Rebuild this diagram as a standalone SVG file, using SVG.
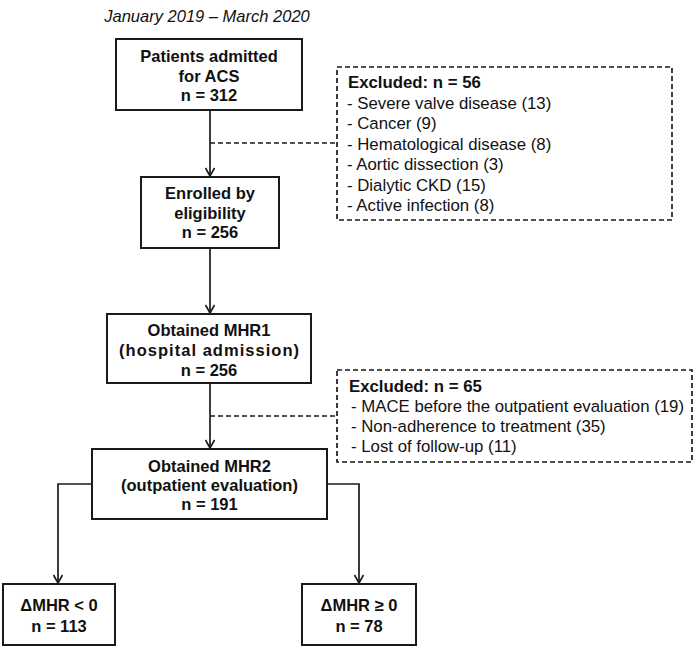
<svg xmlns="http://www.w3.org/2000/svg" width="700" height="648" viewBox="0 0 700 648">
<defs>
<marker id="arr" markerUnits="userSpaceOnUse" markerWidth="12" markerHeight="12" viewBox="-10 -6 12 12" refX="0" refY="0" orient="auto" overflow="visible">
<path d="M-8,-4.5 L0,0 L-8,4.5" fill="none" stroke="#1a1a1a" stroke-width="1.6"/>
</marker>
<style>
.box{fill:#fff;stroke:#1a1a1a;stroke-width:2}
.dbox{fill:#fff;stroke:#1a1a1a;stroke-width:1.7;stroke-dasharray:5 3}
.ln{fill:none;stroke:#1a1a1a;stroke-width:1.7}
.dl{fill:none;stroke:#1a1a1a;stroke-width:1.7;stroke-dasharray:5 3}
.t{font-family:"Liberation Sans",Arial,sans-serif;font-size:16.5px;font-weight:bold;fill:#111;text-anchor:middle}
.x{font-family:"Liberation Sans",Arial,sans-serif;font-size:16.8px;fill:#111}
.xb{font-weight:bold}
.title{font-family:"Liberation Sans",Arial,sans-serif;font-size:16.5px;font-style:italic;fill:#111;text-anchor:middle}
</style>
</defs>
<rect width="700" height="648" fill="#fff"/>
<text class="title" x="207" y="22">January 2019 – March 2020</text>
<g id="connectors">
<line class="ln" x1="210" y1="110" x2="210" y2="176" marker-end="url(#arr)"/>
<line class="dl" x1="210" y1="143" x2="337" y2="143"/>
<line class="ln" x1="210" y1="248" x2="210" y2="313" marker-end="url(#arr)"/>
<line class="ln" x1="210" y1="383" x2="210" y2="448" marker-end="url(#arr)"/>
<line class="dl" x1="210" y1="416" x2="337" y2="416"/>
<polyline class="ln" points="92,484 58,484 58,583" marker-end="url(#arr)"/>
<polyline class="ln" points="327,484 359,484 359,583" marker-end="url(#arr)"/>
</g>
<g id="admitted">
<rect class="box" x="116" y="39" width="186" height="71"/>
<text class="t" x="209" y="62">Patients admitted</text>
<text class="t" x="209" y="82">for ACS</text>
<text class="t" x="209" y="101">n = 312</text>
</g>
<g id="excluded1">
<rect class="dbox" x="337" y="67" width="335" height="153"/>
<text class="x xb" x="348" y="88">Excluded: n = 56</text>
<text class="x" x="347" y="108.5">- Severe valve disease (13)</text>
<text class="x" x="347" y="129">- Cancer (9)</text>
<text class="x" x="347" y="149.5">- Hematological disease (8)</text>
<text class="x" x="347" y="170">- Aortic dissection (3)</text>
<text class="x" x="347" y="190.5">- Dialytic CKD (15)</text>
<text class="x" x="347" y="211">- Active infection (8)</text>
</g>
<g id="enrolled">
<rect class="box" x="141" y="177" width="138" height="71"/>
<text class="t" x="210" y="199">Enrolled by</text>
<text class="t" x="210" y="219">eligibility</text>
<text class="t" x="210" y="238">n = 256</text>
</g>
<g id="mhr1">
<rect class="box" x="107" y="314" width="204" height="69"/>
<text class="t" x="209" y="336">Obtained MHR1</text>
<text class="t" x="209" y="356" textLength="180">(hospital admission)</text>
<text class="t" x="209" y="376">n = 256</text>
</g>
<g id="excluded2">
<rect class="dbox" x="337" y="370" width="355" height="92"/>
<text class="x xb" x="349" y="392">Excluded: n = 65</text>
<text class="x" x="351" y="412">- MACE before the outpatient evaluation (19)</text>
<text class="x" x="351" y="432">- Non-adherence to treatment (35)</text>
<text class="x" x="351" y="452">- Lost of follow-up (11)</text>
</g>
<g id="mhr2">
<rect class="box" x="92" y="449" width="235" height="70"/>
<text class="t" x="209.5" y="472">Obtained MHR2</text>
<text class="t" x="209.5" y="491">(outpatient evaluation)</text>
<text class="t" x="209.5" y="510">n = 191</text>
</g>
<g id="neg">
<rect class="box" x="3" y="584" width="112" height="61"/>
<text class="t" x="59" y="611">ΔMHR &lt; 0</text>
<text class="t" x="59" y="632">n = 113</text>
</g>
<g id="pos">
<rect class="box" x="302" y="584" width="114" height="61"/>
<text class="t" x="359" y="611">ΔMHR ≥ 0</text>
<text class="t" x="359" y="632">n = 78</text>
</g>
</svg>
